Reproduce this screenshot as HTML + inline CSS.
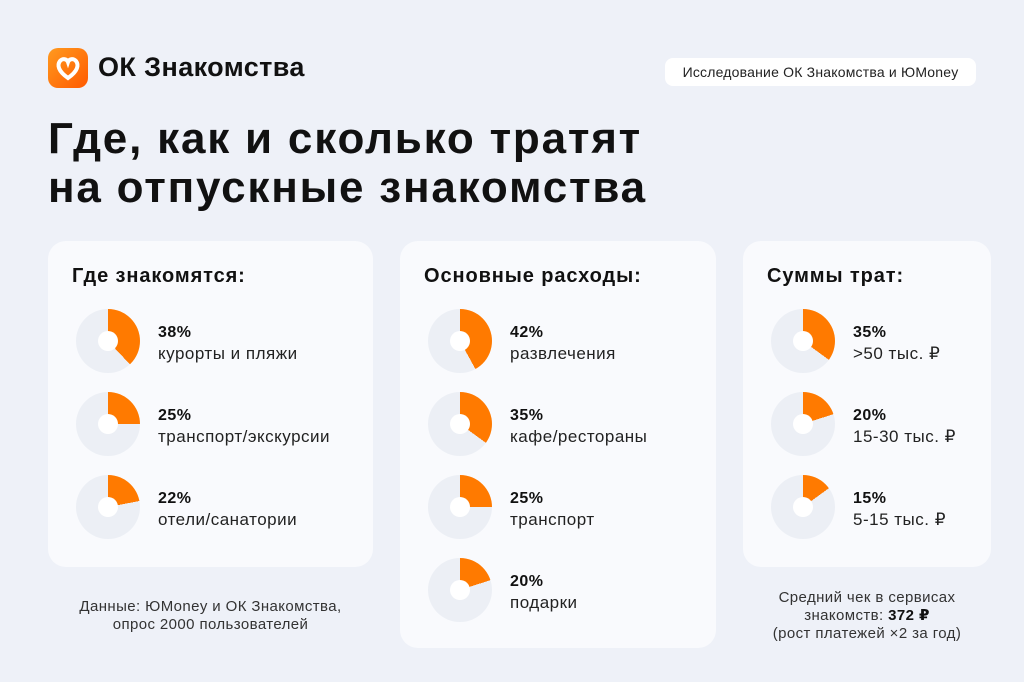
<!DOCTYPE html>
<html><head><meta charset="utf-8"><style>
*{margin:0;padding:0;box-sizing:border-box}
body{width:1024px;height:682px;background:#eef1f8;font-family:"Liberation Sans","DejaVu Sans",sans-serif;color:#111;position:relative;overflow:hidden}
.abs{position:absolute}
.logo{left:48px;top:48px;width:40px;height:40px;border-radius:10px;background:linear-gradient(135deg,#ff9a1f,#ff5a00)}
.brand{left:98px;top:52px;font-size:27px;font-weight:bold;letter-spacing:0.4px}
.tag{left:665px;top:58px;width:311px;height:28px;background:#fff;border-radius:8px;font-size:14px;text-align:center;line-height:28px;color:#222;letter-spacing:0.2px}
h1{position:absolute;left:48px;top:114px;font-size:44px;line-height:49px;font-weight:bold;letter-spacing:1.8px}
.card{position:absolute;background:#f9fafd;border-radius:18px}
.ct{position:absolute;font-size:20px;font-weight:bold;letter-spacing:0.9px}
.pie{position:absolute;width:64px;height:64px;border-radius:50%}
.pie:after{content:"";position:absolute;left:22px;top:22px;width:20px;height:20px;border-radius:50%;background:#fff}
.pc{position:absolute;font-size:16px;font-weight:bold;letter-spacing:0.5px}
.lb{position:absolute;font-size:17px;color:#222;letter-spacing:0.5px}
.note{position:absolute;font-size:15px;text-align:center;color:#333;line-height:18px;letter-spacing:0.4px}
</style></head><body>
<div class="abs logo"><svg width="40" height="40" viewBox="0 0 40 40"><path d="M20 30 C10 23 9 17 12 13 C15 10 19 11 20 14 C21 11 25 10 28 13 C31 17 30 23 20 30Z" fill="none" stroke="#fff" stroke-width="4"/></svg></div>
<div class="abs brand">ОК Знакомства</div>
<div class="abs tag">Исследование ОК Знакомства и ЮMoney</div>
<h1>Где, как и сколько тратят<br>на отпускные знакомства</h1>

<div class="card" style="left:48px;top:241px;width:325px;height:326px"></div>
<div class="card" style="left:400px;top:241px;width:316px;height:407px"></div>
<div class="card" style="left:743px;top:241px;width:248px;height:326px"></div>

<div class="ct" style="left:72px;top:265px">Где знакомятся:</div>
<div class="ct" style="left:424px;top:265px">Основные расходы:</div>
<div class="ct" style="left:767px;top:265px">Суммы трат:</div>

<div class="pie" style="left:76px;top:309px;background:conic-gradient(#ff7a00 0 38%,#eceff5 0)"></div>
<div class="pc" style="left:158px;top:324px">38%</div><div class="lb" style="left:158px;top:344px">курорты и пляжи</div>
<div class="pie" style="left:76px;top:392px;background:conic-gradient(#ff7a00 0 25%,#eceff5 0)"></div>
<div class="pc" style="left:158px;top:407px">25%</div><div class="lb" style="left:158px;top:427px">транспорт/экскурсии</div>
<div class="pie" style="left:76px;top:475px;background:conic-gradient(#ff7a00 0 22%,#eceff5 0)"></div>
<div class="pc" style="left:158px;top:490px">22%</div><div class="lb" style="left:158px;top:510px">отели/санатории</div>

<div class="pie" style="left:428px;top:309px;background:conic-gradient(#ff7a00 0 42%,#eceff5 0)"></div>
<div class="pc" style="left:510px;top:324px">42%</div><div class="lb" style="left:510px;top:344px">развлечения</div>
<div class="pie" style="left:428px;top:392px;background:conic-gradient(#ff7a00 0 35%,#eceff5 0)"></div>
<div class="pc" style="left:510px;top:407px">35%</div><div class="lb" style="left:510px;top:427px">кафе/рестораны</div>
<div class="pie" style="left:428px;top:475px;background:conic-gradient(#ff7a00 0 25%,#eceff5 0)"></div>
<div class="pc" style="left:510px;top:490px">25%</div><div class="lb" style="left:510px;top:510px">транспорт</div>
<div class="pie" style="left:428px;top:558px;background:conic-gradient(#ff7a00 0 20%,#eceff5 0)"></div>
<div class="pc" style="left:510px;top:573px">20%</div><div class="lb" style="left:510px;top:593px">подарки</div>

<div class="pie" style="left:771px;top:309px;background:conic-gradient(#ff7a00 0 35%,#eceff5 0)"></div>
<div class="pc" style="left:853px;top:324px">35%</div><div class="lb" style="left:853px;top:344px">&gt;50 тыс. ₽</div>
<div class="pie" style="left:771px;top:392px;background:conic-gradient(#ff7a00 0 20%,#eceff5 0)"></div>
<div class="pc" style="left:853px;top:407px">20%</div><div class="lb" style="left:853px;top:427px">15-30 тыс. ₽</div>
<div class="pie" style="left:771px;top:475px;background:conic-gradient(#ff7a00 0 15%,#eceff5 0)"></div>
<div class="pc" style="left:853px;top:490px">15%</div><div class="lb" style="left:853px;top:510px">5-15 тыс. ₽</div>

<div class="note" style="left:38px;top:598px;width:345px">Данные: ЮMoney и ОК Знакомства,<br>опрос 2000 пользователей</div>
<div class="note" style="left:733px;top:589px;width:268px">Средний чек в сервисах<br>знакомств: <b style="color:#111">372 ₽</b><br>(рост платежей ×2 за год)</div>
</body></html>
